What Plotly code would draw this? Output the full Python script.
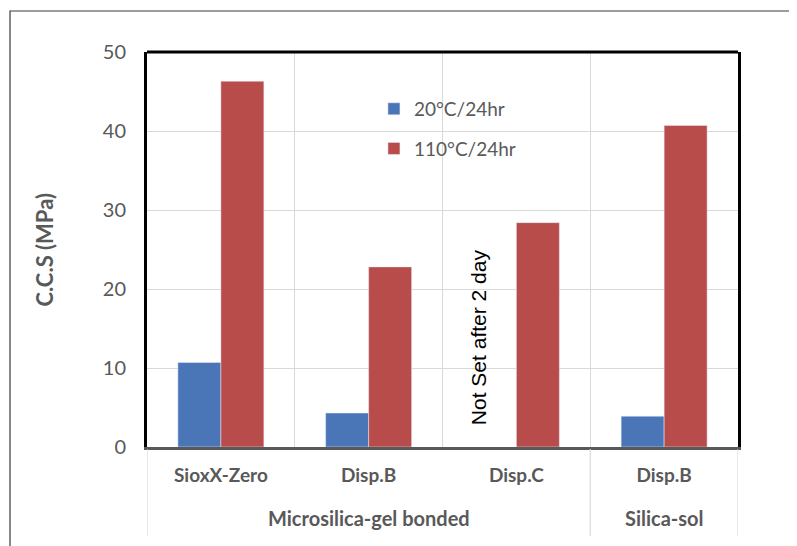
import plotly.graph_objects as go

categories = ["SioxX-Zero", "Disp.B", "Disp.C", "Disp.B"]
groups = ["Microsilica-gel bonded", "Microsilica-gel bonded", "Microsilica-gel bonded", "Silica-sol"]
series_20 = [10.7, 4.3, None, 3.9]
series_110 = [46.3, 22.8, 28.4, 40.7]
series_names = ["20°C/24hr", "110°C/24hr"]
note_text = "Not Set after 2 day"
y_ticks = [0, 10, 20, 30, 40, 50]

xpos = list(range(len(categories)))
grey_txt = "#595959"
FONT = "Lato"

fig = go.Figure()
fig.add_trace(go.Bar(x=xpos, y=series_20, name=series_names[0], marker_color="#4a76b8",
                     legendgroup="a"))
fig.add_trace(go.Bar(x=xpos, y=series_110, name=series_names[1], marker_color="#b84c4b",
                     legendgroup="b"))

# group spans
spans = []
for i, g in enumerate(groups):
    if spans and spans[-1][0] == g:
        spans[-1][2] = i
    else:
        spans.append([g, i, i])

shapes = []
# outer chart border
shapes.append(dict(type="rect", xref="paper", yref="paper", x0=-0.2318, x1=2, y0=-1, y1=1.1038,
                   line=dict(color="#3a3a3a", width=1.2), layer="below"))
# top frame line
shapes.append(dict(type="line", xref="paper", yref="paper", x0=0, x1=1, y0=1, y1=1,
                   line=dict(color="black", width=3)))
# group dividers
bounds = sorted(set([s[1] - 0.5 for s in spans] + [s[2] + 0.5 for s in spans]))
for b in bounds:
    shapes.append(dict(type="line", xref="x", yref="paper", x0=b, x1=b, y0=-0.005, y1=-0.225,
                       line=dict(color="#d9d9d9", width=1.2)))

annotations = []
for g, a, b in spans:
    annotations.append(dict(x=(a + b) / 2, y=-0.18, xref="x", yref="paper", text=g,
                            yanchor="middle", showarrow=False,
                            font=dict(family=FONT, size=20, color=grey_txt, weight="bold")))
annotations.append(dict(x=-0.1726, y=0.5, xref="paper", yref="paper", text="C.C.S (MPa)",
                        textangle=-90, showarrow=False, xanchor="center", yanchor="middle",
                        font=dict(family=FONT, size=22, color=grey_txt, weight="bold")))
annotations.append(dict(x=1.74, y=13.9, xref="x", yref="y", text=note_text, textangle=-90,
                        showarrow=False, font=dict(family="Liberation Sans", size=21, color="black")))

fig.update_layout(
    width=797, height=546,
    margin=dict(l=139, r=67, t=44, b=107, autoexpand=False),
    paper_bgcolor="white", plot_bgcolor="white",
    barmode="group", bargap=0.418, bargroupgap=0,
    showlegend=True,
    legend=dict(x=0.384, y=0.904, xanchor="left", yanchor="top", bgcolor="rgba(0,0,0,0)",
                font=dict(family=FONT, size=19, color=grey_txt), traceorder="grouped",
                tracegroupgap=12),
    shapes=shapes, annotations=annotations,
    xaxis=dict(tickvals=xpos, ticktext=categories, range=[-0.5, len(categories) - 0.5],
               showgrid=False, showline=True, linecolor="#595959", linewidth=2.5,
               ticks="", ticklabelstandoff=9, automargin=False,
               tickfont=dict(family=FONT, size=19, color=grey_txt, weight="bold"),
               minor=dict(tickvals=[i + 0.5 for i in xpos[:-1]], showgrid=True,
                          gridcolor="#d9d9d9", gridwidth=1.2, ticks=""),
               zeroline=False),
    yaxis=dict(range=[0, 50], tickvals=y_ticks, showgrid=True, gridcolor="#d9d9d9", gridwidth=1.2,
               showline=True, linecolor="black", linewidth=3, mirror=True, ticks="",
               ticklabelstandoff=14, zeroline=False, automargin=False,
               tickfont=dict(family=FONT, size=20, color=grey_txt)),
)

fig.write_html("out.html")
